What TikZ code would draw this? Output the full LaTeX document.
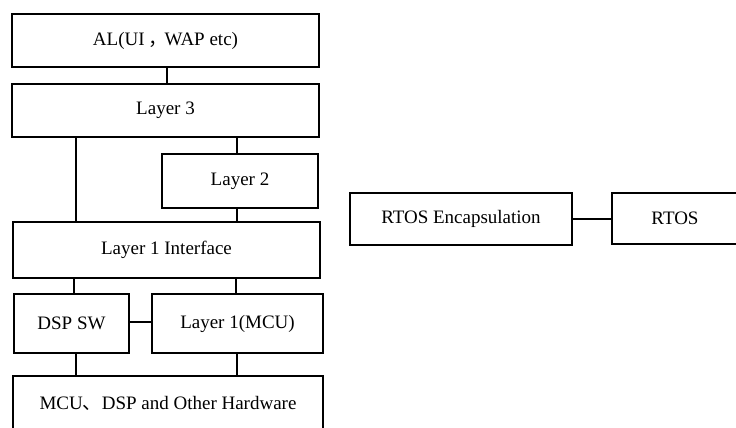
\documentclass[tikz,border=0pt]{standalone}
\usepackage{fontspec}
\setmainfont{Liberation Serif}
\newfontfamily\cjk{Noto Sans CJK SC}
\begin{document}
\begin{tikzpicture}[x=1pt,y=-1pt,
  box/.style={draw=black,line width=1.8pt,inner sep=0pt,anchor=center,
    font=\fontsize{19}{22}\selectfont},
  link/.style={draw=black,line width=1.8pt}]
\useasboundingbox (0,0) rectangle (736,428);
\clip (0,0) rectangle (736,428);
\node[box,minimum width=307pt,minimum height=53pt] (al) at (165.5,40.5) {AL(UI\kern4pt{\cjk ，}\kern-3pt WAP etc)};
\node[box,minimum width=307pt,minimum height=53pt] (l3) at (165.5,110.5) {Layer 3};
\node[box,minimum width=156pt,minimum height=54pt] (l2) at (240,181) {Layer 2};
\node[box,minimum width=307pt,minimum height=56pt] (l1i) at (166.5,250) {Layer 1 Interface};
\node[box,minimum width=115pt,minimum height=59pt] (dsp) at (71.5,323.5) {DSP SW};
\node[box,minimum width=171pt,minimum height=59pt] (mcu) at (237.5,323.5) {Layer 1(MCU)};
\node[box,minimum width=310pt,minimum height=54pt] (hw) at (168,403) {MCU{\cjk 、}DSP and Other Hardware};
\node[box,minimum width=222pt,minimum height=52pt] (enc) at (461,219) {RTOS Encapsulation};
\node[box,minimum width=126pt,minimum height=51pt] (rtos) at (675,218.5) {RTOS};
\coordinate (xm) at (167,0);
\coordinate (xa) at (76,0);
\coordinate (xb) at (237,0);
\coordinate (xc) at (74,0);
\coordinate (xd) at (236,0);
\coordinate (ya) at (0,322);
\draw[link] (al.south -| xm) -- (l3.north -| xm);
\draw[link] (l3.south -| xa) -- (l1i.north -| xa);
\draw[link] (l3.south -| xb) -- (l2.north -| xb);
\draw[link] (l2.south -| xb) -- (l1i.north -| xb);
\draw[link] (l1i.south -| xc) -- (dsp.north -| xc);
\draw[link] (l1i.south -| xd) -- (mcu.north -| xd);
\draw[link] (dsp.east |- ya) -- (mcu.west |- ya);
\draw[link] (dsp.south -| xa) -- (hw.north -| xa);
\draw[link] (mcu.south -| xb) -- (hw.north -| xb);
\draw[link] (enc.east) -- (rtos.west |- enc.east);
\end{tikzpicture}
\end{document}
